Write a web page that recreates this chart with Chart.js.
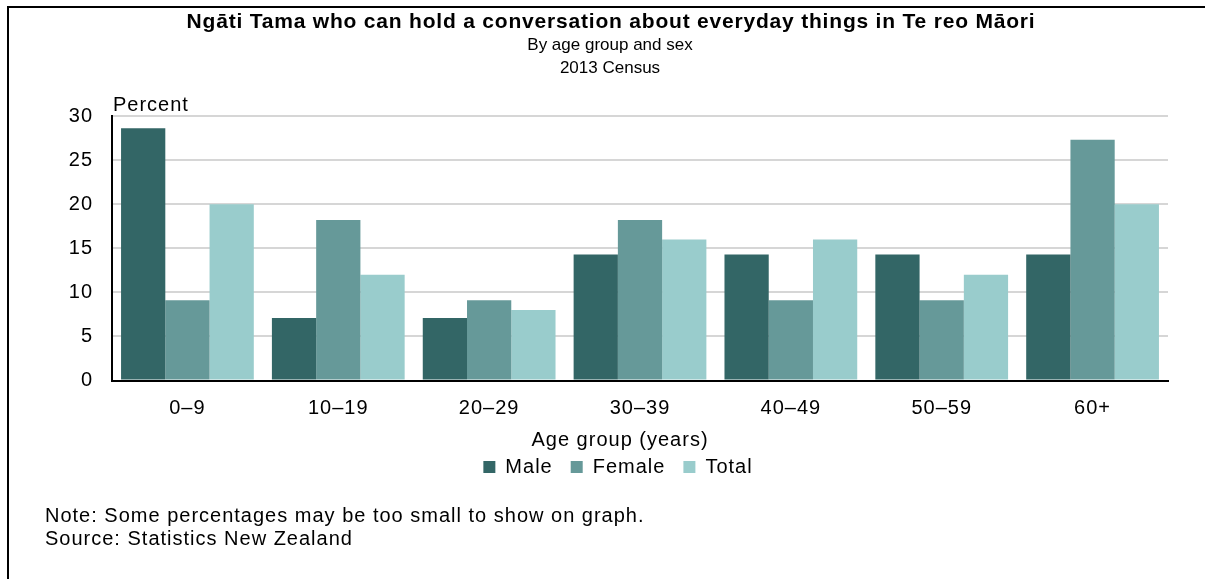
<!DOCTYPE html>
<html><head><meta charset="utf-8">
<script src="https://cdn.jsdelivr.net/npm/chart.js@4/dist/chart.umd.min.js"></script>
<style>
html,body{margin:0;padding:0;background:#fff;}
#wrap{position:relative;width:1205px;height:579px;overflow:hidden;font-family:Arial,"Liberation Sans",sans-serif;color:#000;}
#frame{position:absolute;left:7px;top:6px;width:1400px;height:800px;border:2px solid #000;box-sizing:border-box;}
canvas{position:absolute;left:0;top:0;}
.t{position:absolute;white-space:nowrap;line-height:1;}
#title{left:0;width:1222px;text-align:center;top:10px;font-weight:bold;font-size:21px;letter-spacing:0.8px;}
#sub1{left:0;width:1220px;text-align:center;top:36px;font-size:17px;}
#sub2{left:0;width:1220px;text-align:center;top:59px;font-size:17px;}
#note1{left:45px;top:505px;font-size:20px;letter-spacing:1px;}
#note2{left:45px;top:528px;font-size:20px;letter-spacing:1px;}
</style></head><body>
<div id="wrap">
<div id="frame"></div>
<canvas id="c" width="1205" height="579"></canvas>
<div class="t" id="title">Ngāti Tama who can hold a conversation about everyday things in Te reo Māori</div>
<div class="t" id="sub1">By age group and sex</div>
<div class="t" id="sub2">2013 Census</div>
<div class="t" id="note1">Note: Some percentages may be too small to show on graph.</div>
<div class="t" id="note2">Source: Statistics New Zealand</div>
</div>
<script>
const categories = ['0–9','10–19','20–29','30–39','40–49','50–59','60+'];
const male = [28.6, 7.1, 7.1, 14.3, 14.3, 14.3, 14.3];
const female = [9.1, 18.2, 9.1, 18.2, 9.1, 9.1, 27.3];
const total = [20.0, 12.0, 8.0, 16.0, 16.0, 12.0, 20.0];
const yTicks = [0, 5, 10, 15, 20, 25, 30];
const yAxisLabel = 'Percent';
const xAxisTitle = 'Age group (years)';

const FONT = 'Arial, "Liberation Sans", sans-serif';

const spacing = {
  id: 'spacing',
  afterInit(chart) { chart.ctx.letterSpacing = '1px'; },
  beforeUpdate(chart) { chart.ctx.letterSpacing = '1px'; },
  beforeDraw(chart) { chart.ctx.letterSpacing = '1px'; }
};

const extraText = {
  id: 'extraText',
  afterDraw(chart) {
    const ctx = chart.ctx, a = chart.chartArea;
    ctx.save();
    ctx.fillStyle = '#000';
    ctx.font = '20px ' + FONT;
    ctx.textBaseline = 'middle';
    ctx.textAlign = 'left';
    ctx.fillText(yAxisLabel, a.left + 1, 105);
    ctx.textAlign = 'center';
    ctx.fillText(xAxisTitle, 620, 440);
    ctx.restore();
  }
};

new Chart(document.getElementById('c'), {
  type: 'bar',
  data: {
    labels: categories,
    datasets: [
      {label: 'Male', data: male, backgroundColor: '#336666', borderWidth: 0},
      {label: 'Female', data: female, backgroundColor: '#669999', borderWidth: 0},
      {label: 'Total', data: total, backgroundColor: '#99CCCC', borderWidth: 0}
    ]
  },
  options: {
    responsive: false,
    animation: false,
    devicePixelRatio: 1,
    layout: {padding: {top: 116, left: 68, right: 37, bottom: 92}},
    datasets: {bar: {categoryPercentage: 0.88, barPercentage: 1.0}},
    plugins: {
      title: {display: false},
      tooltip: {enabled: false},
      legend: {
        display: true,
        position: 'bottom',
        labels: {
          boxWidth: 12, boxHeight: 12, padding: 18,
          color: '#000', font: {family: FONT, size: 20}
        }
      }
    },
    scales: {
      x: {
        grid: {display: false, drawTicks: false},
        border: {display: true, color: '#000', width: 2},
        ticks: {color: '#000', font: {family: FONT, size: 20}, padding: 16},
        afterFit(s) { s.height = 58.5; }
      },
      y: {
        min: 0, max: 30,
        afterBuildTicks(s) { s.ticks = yTicks.map(v => ({value: v})); },
        grid: {
          drawTicks: false, lineWidth: 2,
          color: c => (c.tick && c.tick.value === 0) ? 'rgba(0,0,0,0)' : '#d6d6d6'
        },
        border: {display: true, color: '#000', width: 2},
        ticks: {color: '#000', font: {family: FONT, size: 20}, padding: 19},
        afterFit(s) { s.width = 44; }
      }
    }
  },
  plugins: [spacing, extraText]
});
</script>
</body></html>
